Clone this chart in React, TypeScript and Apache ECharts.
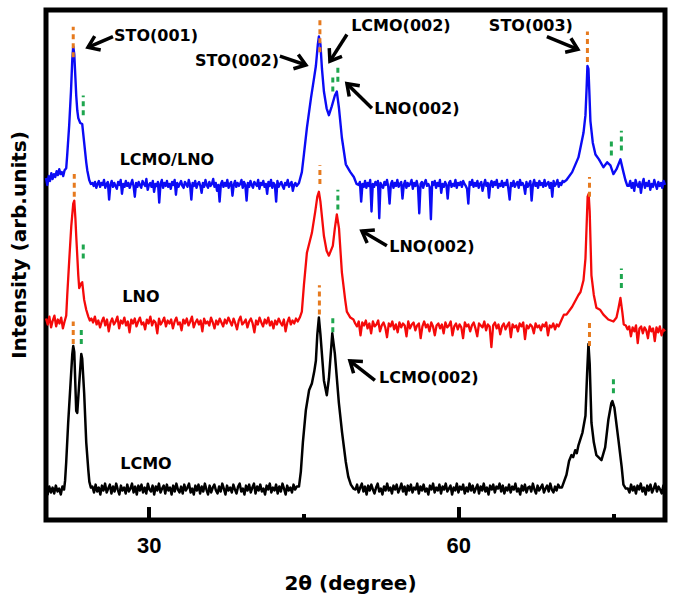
import React, { useEffect, useRef } from "react";
import * as echarts from "echarts";

// ---------- axis ----------
const X_MIN = 20;
const X_MAX = 80;
const Y_MIN = -2;
const Y_MAX = 517;
const xTickLabels = [30, 60];
const xMinorTicks = [45, 75];
const xTitle = "2θ (degree)";
const yTitle = "Intensity (arb.units)";

// ---------- LCMO (black) ----------
const lcmoBase0 = { from: 20.0, to: 21.75, values: [28, 24, 32, 26, 31, 25, 33, 27, 30, 24, 32, 29] };
const lcmoBase1 = {
  from: 24.5, to: 44.3,
  values: [
    32, 26, 34, 27, 31, 24, 33, 28, 35, 26, 30, 34, 25, 32, 27, 35, 29, 24, 33, 28,
    31, 25, 34, 27, 30, 35, 26, 32, 24, 33, 28, 34, 26, 31, 25, 35, 29, 27, 33, 24,
    32, 28, 35, 26, 30, 33, 25, 34, 28, 31, 24, 33, 27, 35, 29, 26, 32, 25, 34, 28,
    31, 35, 26, 30, 24, 33, 28, 34, 25, 32, 27, 35, 29, 24, 33, 26, 31, 34, 28, 25,
    32, 27, 35, 30, 24, 33, 28, 31, 26, 34, 29, 25, 32, 35, 27, 30, 24, 33, 28, 34,
    26, 31, 35, 25, 32, 28, 34, 27, 30, 24, 33, 29, 35, 26, 31, 28, 34, 25, 32, 27,
    35, 30, 24, 33, 28, 31, 26, 34, 29, 32,
  ],
};
const lcmoBase2 = {
  from: 50.0, to: 69.8,
  values: [
    29, 34, 26, 31, 35, 27, 32, 24, 33, 28, 34, 29, 25, 31, 35, 27, 30, 24, 32, 28,
    35, 28, 31, 25, 33, 29, 34, 26, 30, 35, 27, 32, 24, 33, 28, 34, 26, 31, 29, 35,
    25, 32, 28, 34, 27, 30, 24, 33, 29, 35, 26, 31, 28, 34, 25, 32, 29, 35, 27, 30,
    33, 24, 31, 28, 35, 26, 32, 29, 34, 25, 31, 27, 35, 28, 33, 26, 30, 34, 25, 32,
    28, 35, 27, 31, 24, 33, 29, 34, 26, 32, 30, 35, 27, 33, 25, 31, 28, 34, 26, 32,
    29, 35, 27, 30, 24, 33, 28, 34, 26, 31, 32, 27, 35, 29, 25, 33, 28, 31, 34, 26,
    30, 33, 27, 35, 29, 26, 32, 28, 34, 31,
  ],
};
const lcmoBase3 = { from: 76.4, to: 80.0, values: [30, 26, 34, 28, 32, 25, 33, 29, 35, 27, 31, 24, 33, 28, 34, 26, 30, 35, 27, 32, 29, 25, 33, 30] };
const lcmoPeaks = [
  [21.85, 38], [21.96, 57], [22.15, 97], [22.35, 132], [22.55, 167], [22.64, 175], [22.74, 169], [22.93, 109], [23.03, 107], [23.22, 137], [23.42, 167], [23.51, 162], [23.7, 127], [23.9, 77], [24.1, 49], [24.2, 37], [24.35, 31],
  [44.52, 32], [44.7, 47], [44.9, 77], [45.19, 110], [45.5, 130], [45.77, 137], [46.0, 149], [46.16, 160], [46.3, 187], [46.45, 204], [46.6, 187], [46.94, 140], [47.22, 125], [47.42, 142], [47.75, 188], [48.0, 167], [48.39, 117], [48.7, 87], [49.06, 57], [49.3, 42], [49.55, 34], [49.8, 30],
  [70.0, 31], [70.45, 44], [70.7, 58], [70.93, 64], [71.1, 62], [71.3, 69], [71.45, 66], [71.61, 74], [72.0, 87], [72.29, 104], [72.45, 147], [72.58, 177], [72.7, 157], [72.87, 97], [73.1, 77], [73.35, 64], [73.84, 59], [74.2, 72], [74.51, 100], [74.8, 117], [74.9, 119], [75.1, 112], [75.48, 80], [75.8, 52], [75.97, 34], [76.2, 30],
];

// ---------- LNO (red) ----------
const lnoBase0 = { from: 20.0, to: 21.8, values: [203, 197, 205, 194, 201, 206, 195, 202, 198, 204, 193, 200] };
const lnoBase1 = {
  from: 24.4, to: 44.4,
  values: [
    203, 199, 205, 197, 201, 194, 200, 204, 196, 202, 190, 199, 203, 197, 200, 205, 193, 201, 198, 204,
    196, 200, 189, 202, 198, 203, 195, 200, 204, 197, 199, 192, 202, 198, 205, 196, 201, 199, 188, 203,
    197, 200, 204, 195, 201, 198, 202, 193, 200, 204, 197, 199, 191, 202, 198, 203, 196, 200, 205, 194,
    199, 202, 197, 201, 190, 203, 198, 200, 196, 204, 199, 193, 201, 197, 203, 199, 195, 202, 198, 204,
    200, 196, 203, 198, 192, 201, 205, 197, 199, 202, 194, 200, 203, 198, 189, 201, 197, 204, 199, 195,
    202, 198, 204, 196, 200, 193, 201, 197, 203, 199, 196, 202, 190, 199, 204, 197, 201, 198, 203, 200,
  ],
};
const lnoBase2 = {
  from: 49.8, to: 70.2,
  values: [
    202, 198, 195, 200, 186, 199, 196, 201, 193, 198, 188, 200, 195, 197, 201, 190, 196, 199, 194, 184,
    198, 195, 200, 192, 197, 189, 199, 194, 198, 196, 185, 200, 193, 197, 199, 191, 196, 198, 183, 195,
    200, 194, 197, 190, 199, 195, 186, 196, 198, 193, 197, 188, 199, 194, 196, 200, 186, 195, 198, 192,
    197, 194, 183, 199, 195, 197, 190, 196, 199, 193, 185, 198, 196, 194, 200, 191, 197, 195, 174, 196,
    199, 193, 197, 187, 195, 198, 192, 196, 199, 184, 197, 194, 196, 190, 198, 195, 199, 182, 196, 193,
    197, 195, 188, 198, 194, 196, 191, 197, 195, 199, 186, 196, 194, 198, 192, 197, 195, 199, 203, 207,
  ],
};
const lnoBase3 = { from: 76.2, to: 80.0, values: [196, 192, 195, 185, 194, 190, 196, 178, 193, 195, 188, 194, 191, 183, 195, 190, 193, 180, 194, 189, 195, 186, 192, 190] };
const lnoPeaks = [
  [21.96, 206], [22.06, 227], [22.25, 262], [22.45, 297], [22.64, 320], [22.74, 323], [22.85, 305], [22.93, 287], [23.13, 247], [23.22, 234], [23.42, 239], [23.51, 240], [23.7, 222], [23.9, 212], [24.1, 205], [24.25, 201],
  [44.6, 204], [44.8, 210], [45.0, 237], [45.29, 270], [45.77, 290], [46.1, 312], [46.3, 327], [46.45, 332], [46.6, 322], [46.94, 287], [47.2, 272], [47.42, 267], [47.8, 277], [48.0, 295], [48.19, 309], [48.4, 295], [48.68, 250], [49.0, 222], [49.16, 210], [49.5, 204],
  [70.45, 207], [71.0, 215], [71.61, 227], [71.81, 230], [72.1, 242], [72.29, 264], [72.4, 297], [72.5, 327], [72.6, 330], [72.7, 312], [72.87, 247], [73.1, 227], [73.35, 214], [73.7, 212], [74.03, 207], [74.5, 202], [75.0, 200], [75.3, 204], [75.5, 214], [75.68, 224], [75.87, 209], [76.0, 197],
];

// ---------- LCMO/LNO (blue) ----------
const bilayerBase0 = { from: 20.0, to: 21.8, values: [346, 339, 348, 343, 351, 345, 350, 347, 353, 349, 355, 350, 352, 348, 354] };
const bilayerBase1 = {
  from: 24.5, to: 44.3,
  values: [
    341, 338, 342, 336, 340, 343, 337, 341, 339, 344, 336, 340, 342, 324, 339, 343, 337, 341, 338, 335,
    342, 339, 344, 330, 340, 337, 343, 338, 341, 336, 340, 344, 338, 327, 341, 337, 342, 339, 336, 343,
    340, 338, 345, 334, 339, 341, 337, 343, 332, 340, 338, 342, 321, 340, 344, 336, 341, 338, 343, 337,
    340, 335, 342, 339, 344, 329, 341, 337, 340, 343, 338, 336, 342, 340, 337, 344, 339, 324, 341, 338,
    343, 336, 340, 342, 338, 331, 341, 337, 344, 339, 336, 342, 338, 340, 345, 337, 341, 333, 339, 322,
    340, 343, 337, 341, 338, 344, 336, 340, 342, 328, 339, 343, 337, 341, 338, 340, 344, 336, 342, 339,
    323, 341, 337, 343, 339, 336, 342, 340, 338, 344, 335, 341, 339, 343, 337, 340, 330, 342, 338, 344,
    336, 341, 339, 322, 343, 337, 340, 342, 338, 335, 341, 339, 344, 337, 340, 342, 333, 339, 341, 338,
  ],
};
const bilayerBase2 = {
  from: 50.3, to: 70.2,
  values: [
    339, 342, 322, 340, 337, 343, 336, 341, 338, 344, 312, 340, 337, 342, 339, 343, 305, 341, 338, 336,
    342, 339, 344, 337, 320, 340, 343, 336, 341, 338, 344, 337, 340, 342, 325, 339, 343, 336, 341, 338,
    340, 344, 335, 341, 338, 343, 337, 310, 340, 342, 336, 341, 344, 338, 340, 337, 304, 342, 339, 343,
    336, 341, 338, 344, 331, 340, 337, 342, 339, 325, 341, 343, 337, 340, 338, 344, 336, 341, 339, 342,
    337, 343, 340, 338, 335, 320, 342, 339, 344, 337, 341, 338, 343, 336, 340, 342, 333, 339, 344, 338,
    341, 326, 340, 343, 337, 342, 339, 344, 336, 340, 338, 343, 337, 341, 339, 344, 335, 324, 341, 338,
    343, 337, 340, 342, 336, 344, 339, 341, 338, 330, 342, 337, 340, 343, 323, 339, 344, 338, 341, 336,
    343, 339, 341, 337, 344, 338, 340, 342, 336, 341, 327, 343, 338, 340, 344, 337, 341, 339, 343, 342,
  ],
};
const bilayerBase3 = { from: 76.5, to: 80.0, values: [338, 343, 336, 341, 333, 344, 339, 337, 342, 331, 340, 345, 336, 341, 338, 343, 334, 340, 337, 344, 339, 335, 342, 338, 341, 336, 343, 339] };
const bilayerPeaks = [
  [21.96, 356], [22.06, 370], [22.25, 400], [22.42, 434], [22.55, 467], [22.64, 480], [22.74, 472], [22.85, 448], [22.93, 430], [23.03, 415], [23.13, 407], [23.32, 402], [23.51, 401], [23.7, 382], [23.9, 362], [24.0, 354], [24.19, 344], [24.35, 340],
  [44.52, 341], [44.8, 352], [45.0, 370], [45.29, 397], [45.68, 427], [46.0, 449], [46.16, 460], [46.35, 482], [46.45, 490], [46.6, 482], [46.75, 457], [46.94, 434], [47.2, 417], [47.42, 410], [47.7, 419], [48.0, 430], [48.19, 434], [48.4, 417], [48.68, 387], [49.06, 360], [49.5, 352], [49.84, 347], [50.1, 340],
  [70.45, 344], [71.0, 352], [71.61, 367], [71.81, 377], [72.1, 392], [72.29, 410], [72.4, 437], [72.48, 460], [72.58, 457], [72.68, 430], [72.77, 404], [73.0, 382], [73.26, 370], [73.6, 365], [74.03, 357], [74.4, 362], [74.71, 359], [75.0, 350], [75.3, 355], [75.68, 365], [75.97, 352], [76.16, 344], [76.35, 338],
];

// ---------- reflection markers: [2θ, from, to] ----------
const stoMarkers = [
  [22.64, 469, 500], [46.55, 474, 507], [72.48, 464, 495],
  [22.74, 327, 350], [46.55, 340, 359], [72.68, 327, 347],
  [22.64, 177, 200], [46.5, 207, 237], [72.68, 175, 199],
];
const filmMarkers = [
  [23.61, 410, 430], [47.8, 434, 452], [48.29, 444, 462], [74.8, 369, 387], [75.77, 374, 394],
  [23.61, 264, 282], [48.29, 314, 334], [75.77, 234, 254],
  [23.42, 177, 195], [47.8, 189, 207], [75.0, 127, 145],
];

// ---------- annotations ----------
const annTexts = ["STO(001)", "STO(002)", "LCMO(002)", "STO(003)", "LNO(002)", "LNO(002)", "LCMO(002)"];
const annTextPos = [[30.66, 491], [38.51, 466], [54.4, 501], [67.0, 501], [55.95, 417], [57.4, 276], [57.11, 143]];
const annArrows = [
  [26.49, 490, 24.07, 479], [42.67, 470, 45.19, 461], [49.17, 492, 47.52, 465], [68.55, 490, 71.55, 477],
  [51.59, 417, 49.17, 442], [53.04, 277, 50.62, 292], [51.88, 140, 49.46, 160],
];
const sampleNames = ["LCMO/LNO", "LNO", "LCMO"];
const sampleLabelPos = [[31.72, 365], [29.2, 225], [29.69, 55]];

type Base = { from: number; to: number; values: number[] };
function buildCurve(bases: Base[], peaks: number[][]) {
  const pts: number[][] = [];
  for (const b of bases) {
    const n = b.values.length;
    const step = (b.to - b.from) / (n - 1);
    b.values.forEach((v, i) => pts.push([+(b.from + i * step).toFixed(3), v]));
  }
  for (const p of peaks) pts.push(p);
  pts.sort((a, b) => a[0] - b[0]);
  return pts;
}

const ANN_FONT = 'bold 16px "DejaVu Sans"';

export default function App() {
  const ref = useRef<HTMLDivElement>(null);
  useEffect(() => {
    if (!ref.current) return;
    const chart = echarts.init(ref.current, undefined, { renderer: "svg" });

    const lineSeries = (name: string, data: number[][], color: string, width: number) => ({
      type: "line",
      name,
      data,
      showSymbol: false,
      symbol: "none",
      lineStyle: { color, width, join: "round" },
      z: 2,
    });

    const markerSeries = (data: number[][], color: string) => ({
      type: "custom",
      data,
      encode: { x: 0, y: [1, 2] },
      clip: false,
      z: 5,
      renderItem: (params: any, api: any) => {
        const p1 = api.coord([api.value(0), api.value(1)]);
        const p2 = api.coord([api.value(0), api.value(2)]);
        return {
          type: "line",
          shape: { x1: p1[0], y1: p1[1], x2: p2[0], y2: p2[1] },
          style: { stroke: color, lineWidth: 3, lineDash: [5, 4] },
        };
      },
    });

    const option: any = {
      animation: false,
      backgroundColor: "#ffffff",
      grid: {
        left: 46, right: 10, top: 10, bottom: 69,
        show: true, borderColor: "#000", borderWidth: 5, backgroundColor: "transparent",
      },
      xAxis: [
        {
          type: "value", min: X_MIN, max: X_MAX, position: "bottom",
          axisLine: { show: false },
          splitLine: { show: false },
          axisTick: { show: true, inside: true, length: 11, customValues: xTickLabels, lineStyle: { color: "#000", width: 4 } },
          axisLabel: {
            customValues: xTickLabels, margin: 14, color: "#000",
            fontFamily: '"Liberation Sans"', fontWeight: "bold", fontSize: 22,
          },
          name: xTitle, nameLocation: "middle", nameGap: 53,
          nameTextStyle: { color: "#000", fontFamily: '"DejaVu Sans"', fontWeight: "bold", fontSize: 20, padding: [0, 10, 0, 0] },
        },
        {
          type: "value", min: X_MIN, max: X_MAX, position: "bottom",
          axisLine: { show: false },
          splitLine: { show: false },
          axisTick: { show: true, inside: true, length: 6, customValues: xMinorTicks, lineStyle: { color: "#000", width: 4 } },
          axisLabel: { show: false },
        },
      ],
      yAxis: {
        type: "value", min: Y_MIN, max: Y_MAX,
        axisLine: { show: false }, axisTick: { show: false }, axisLabel: { show: false }, splitLine: { show: false },
      },
      graphic: [
        {
          type: "text", x: 19, y: 245, rotation: Math.PI / 2,
          style: { text: yTitle, font: 'bold 20px "DejaVu Sans"', fill: "#000", align: "center", verticalAlign: "middle" },
        },
      ],
      series: [
        lineSeries("LCMO/LNO", buildCurve([bilayerBase0, bilayerBase1, bilayerBase2, bilayerBase3], bilayerPeaks), "#0b0bf5", 2.4),
        lineSeries("LNO", buildCurve([lnoBase0, lnoBase1, lnoBase2, lnoBase3], lnoPeaks), "#f50a0a", 2.3),
        lineSeries("LCMO", buildCurve([lcmoBase0, lcmoBase1, lcmoBase2, lcmoBase3], lcmoPeaks), "#000000", 2.5),
        markerSeries(stoMarkers, "#e67a1e"),
        markerSeries(filmMarkers, "#1ea64e"),
        {
          type: "custom",
          data: annArrows,
          encode: { x: [0, 2], y: [1, 3] },
          clip: false,
          z: 6,
          renderItem: (params: any, api: any) => {
            const a = api.coord([api.value(0), api.value(1)]);
            const b = api.coord([api.value(2), api.value(3)]);
            const ang = Math.atan2(b[1] - a[1], b[0] - a[0]);
            const L = 13;
            const s = 0.62;
            const h1 = [b[0] - L * Math.cos(ang - s), b[1] - L * Math.sin(ang - s)];
            const h2 = [b[0] - L * Math.cos(ang + s), b[1] - L * Math.sin(ang + s)];
            const st = { stroke: "#000", lineWidth: 3.5, fill: null, lineJoin: "miter" };
            return {
              type: "group",
              children: [
                { type: "line", shape: { x1: a[0], y1: a[1], x2: b[0], y2: b[1] }, style: st },
                { type: "polyline", shape: { points: [h1, b, h2] }, style: st },
              ],
            };
          },
        },
        {
          type: "custom",
          data: annTextPos,
          encode: { x: 0, y: 1 },
          clip: false,
          z: 6,
          renderItem: (params: any, api: any) => {
            const p = api.coord([api.value(0), api.value(1)]);
            return {
              type: "text", x: p[0], y: p[1],
              style: { text: annTexts[params.dataIndex], font: ANN_FONT, fill: "#000", align: "center", verticalAlign: "middle" },
            };
          },
        },
        {
          type: "custom",
          data: sampleLabelPos,
          encode: { x: 0, y: 1 },
          clip: false,
          z: 6,
          renderItem: (params: any, api: any) => {
            const p = api.coord([api.value(0), api.value(1)]);
            return {
              type: "text", x: p[0], y: p[1],
              style: { text: sampleNames[params.dataIndex], font: ANN_FONT, fill: "#000", align: "center", verticalAlign: "middle" },
            };
          },
        },
      ],
    };
    chart.setOption(option);
    return () => chart.dispose();
  }, []);

  return (
    <div
      ref={ref}
      style={{ position: "fixed", left: 0, top: 0, width: 675, height: 598, background: "#fff" }}
    />
  );
}
